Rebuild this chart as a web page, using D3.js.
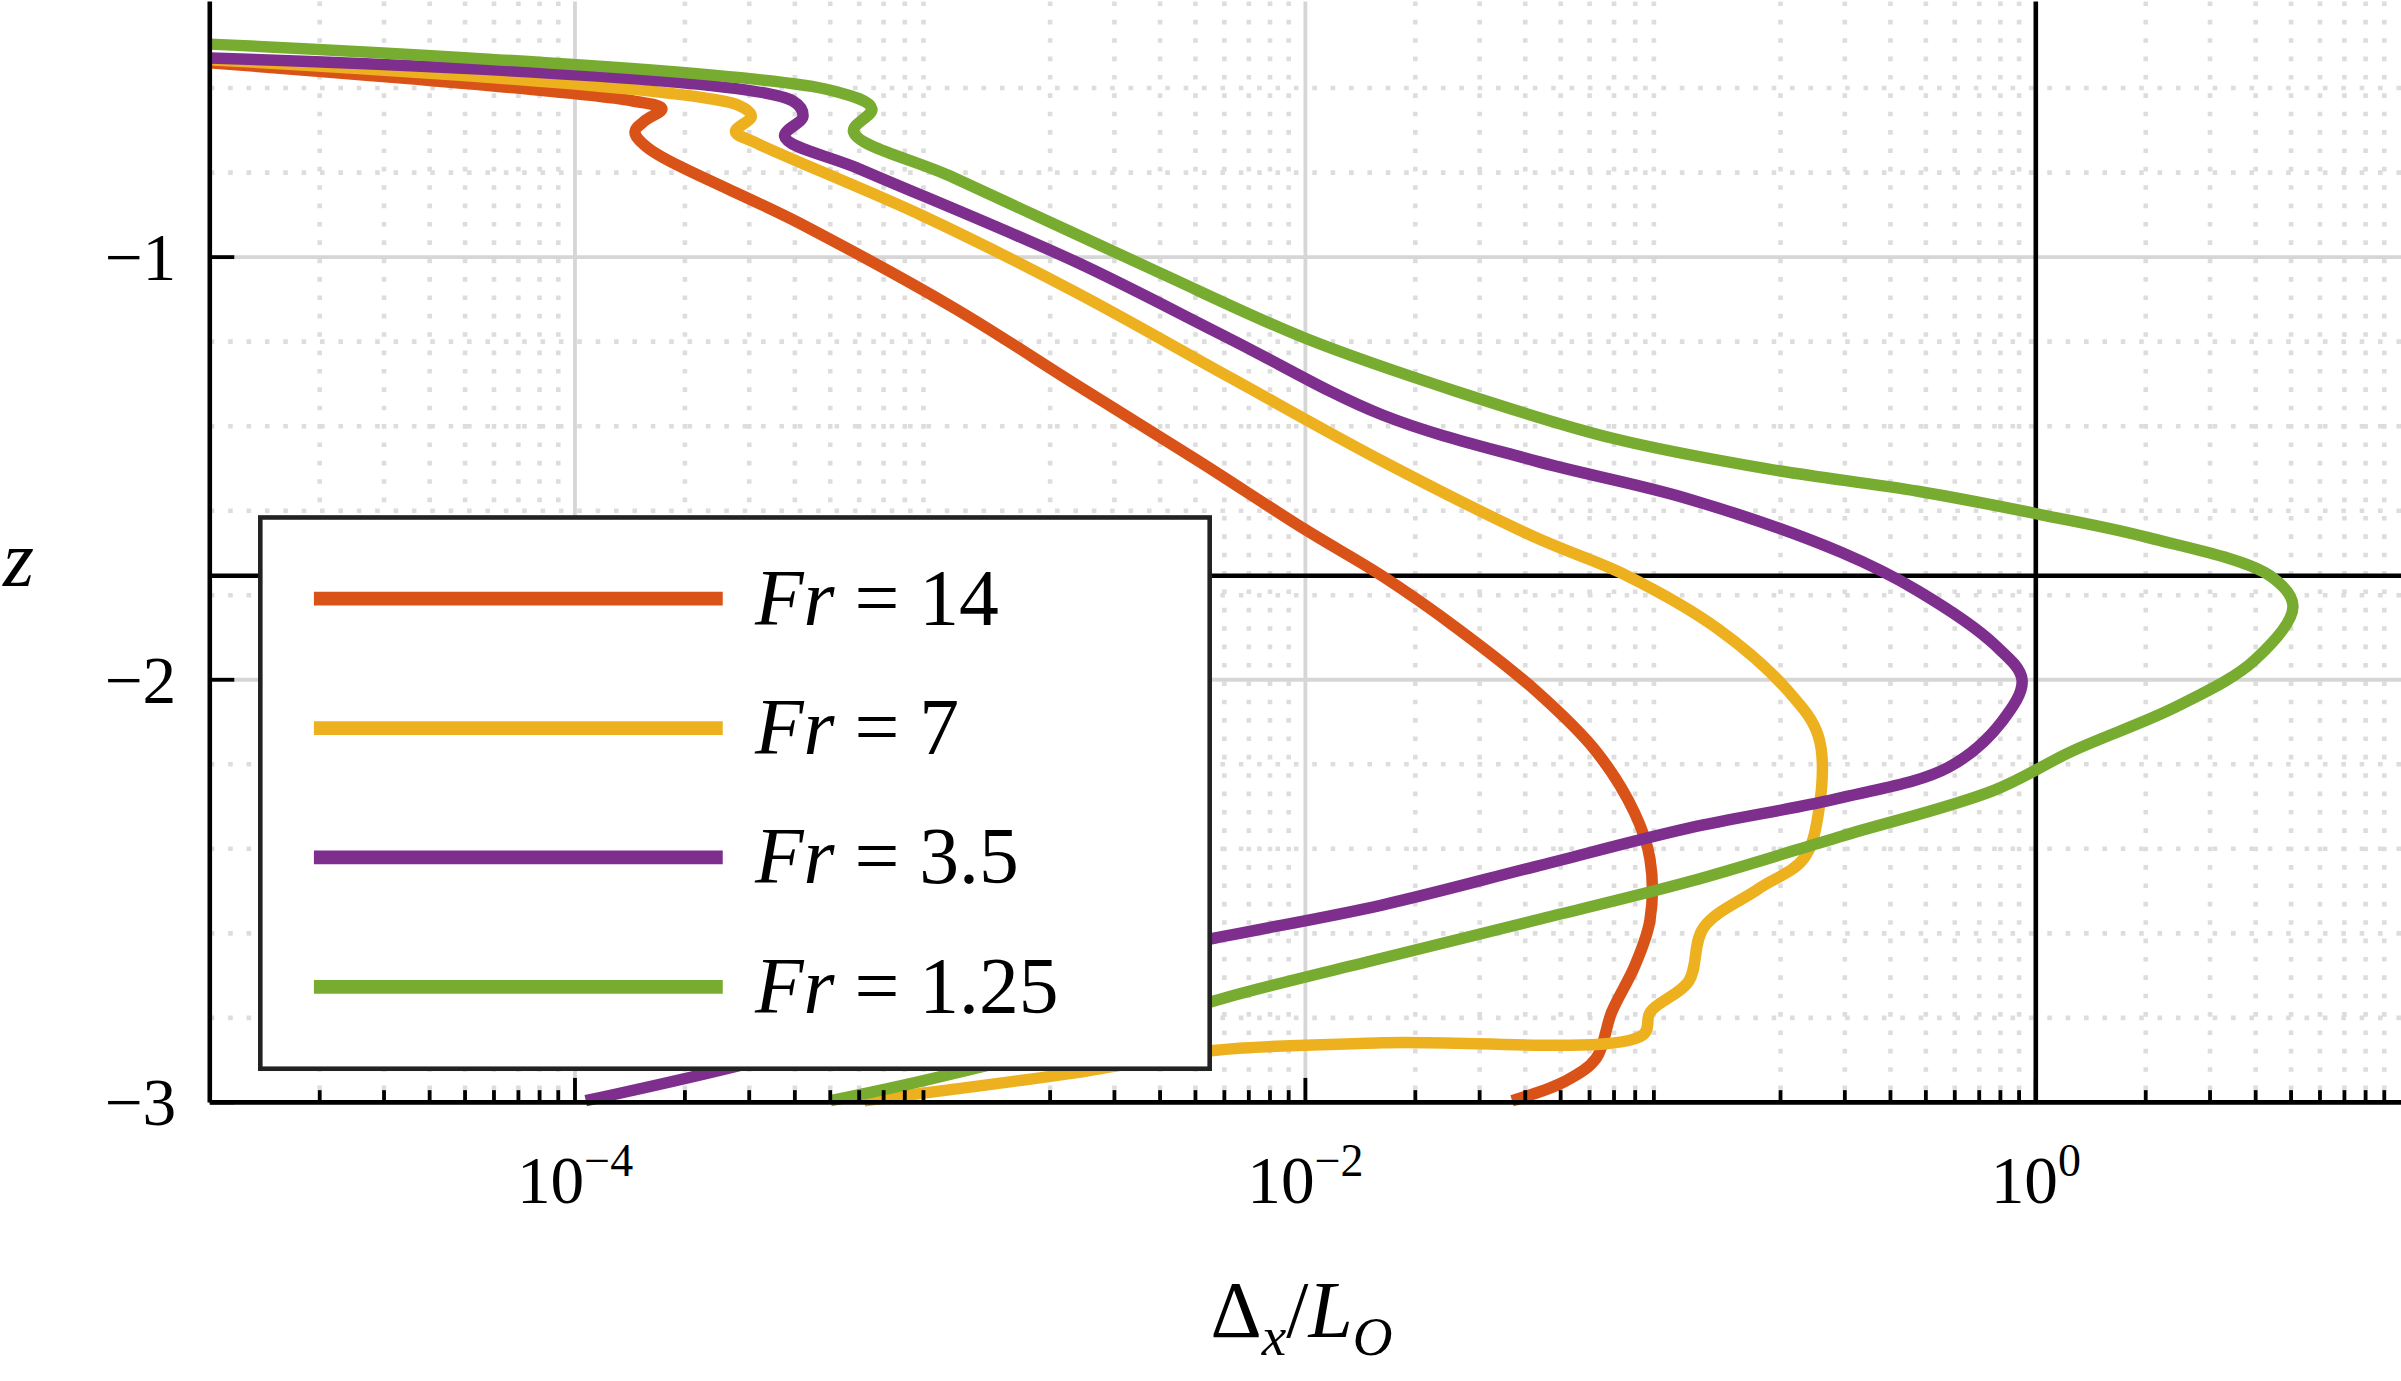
<!DOCTYPE html>
<html><head><meta charset="utf-8">
<script src="https://cdn.jsdelivr.net/npm/d3@7"></script>
<style>body{margin:0;background:#fff}svg{display:block}svg text{font-family:"Liberation Serif","Times New Roman",Times,serif}</style>
</head><body><div id="graph"></div>
<script>
// curves as [Δx/L_O, z]
var fr14 = [[1e-5,-0.54],[1.43e-4,-0.63],[1.73e-4,-0.649],[1.55e-4,-0.678],[1.46e-4,-0.703],[1.57e-4,-0.739],[4.13e-4,-0.92],[1.09e-3,-1.12],[2.35e-3,-1.301],[5.09e-3,-1.482],[0.01,-1.645],[0.0162,-1.754],[0.0262,-1.88],[0.0426,-2.025],[0.0626,-2.17],[0.0797,-2.315],[0.0878,-2.424],[0.0878,-2.569],[0.0797,-2.678],[0.069,-2.786],[0.0626,-2.895],[0.0517,-2.949],[0.0368,-2.996]];
var fr7 = [[1e-5,-0.533],[2.81e-4,-0.641],[3.04e-4,-0.667],[2.75e-4,-0.703],[3.1e-4,-0.728],[8.95e-4,-0.902],[2.35e-3,-1.083],[6.17e-3,-1.283],[0.0162,-1.482],[0.0426,-1.663],[0.076,-1.754],[0.135,-1.88],[0.209,-2.025],[0.254,-2.134],[0.254,-2.315],[0.231,-2.424],[0.173,-2.496],[0.123,-2.587],[0.112,-2.714],[0.088,-2.786],[0.084,-2.84],[0.0162,-2.859],[0.0056,-2.877],[0.00234,-2.93],[6.2e-4,-2.996]];
var fr35 = [[1e-5,-0.529],[3.94e-4,-0.63],[4.21e-4,-0.667],[3.75e-4,-0.714],[6.08e-4,-0.793],[2.35e-3,-1.011],[6.17e-3,-1.192],[0.0162,-1.373],[0.0426,-1.482],[0.112,-1.572],[0.294,-1.699],[0.476,-1.79],[0.771,-1.917],[0.917,-2.0],[0.809,-2.098],[0.577,-2.207],[0.294,-2.279],[0.112,-2.351],[0.0426,-2.442],[0.0162,-2.533],[6.17e-3,-2.605],[2.35e-3,-2.678],[8.95e-4,-2.786],[3.4e-4,-2.895],[1.07e-4,-2.996]];
var fr125 = [[1e-5,-0.496],[5.01e-4,-0.605],[6.5e-4,-0.649],[5.79e-4,-0.703],[1.09e-3,-0.812],[3.81e-3,-1.029],[0.01,-1.192],[0.0262,-1.319],[0.069,-1.428],[0.181,-1.5],[0.476,-1.554],[1.03,-1.609],[2.02,-1.663],[4.38,-1.754],[5.06,-1.826],[3.98,-1.953],[2.45,-2.062],[1.25,-2.17],[0.771,-2.261],[0.294,-2.37],[0.112,-2.478],[0.0426,-2.569],[0.0162,-2.659],[6.17e-3,-2.75],[2.35e-3,-2.859],[8.95e-4,-2.949],[5.01e-4,-2.996]];

var series = [
  { label: "14",   color: "#D95319", data: fr14 },
  { label: "7",    color: "#EDB120", data: fr7 },
  { label: "3.5",  color: "#7E2F8E", data: fr35 },
  { label: "1.25", color: "#77AC30", data: fr125 }
];
var xTicks = [1e-4, 1e-2, 1];
var xTickLabels = ["−4", "−2", "0"];
var yTicks = [-1, -2, -3];

var W = 1568, H = 900;
var svg = d3.select("#graph").append("svg")
  .attr("width", 2401).attr("height", 1381)
  .attr("viewBox", `0 0 ${W} ${H}`);

var x = d3.scaleLog().domain([1e-5, 10]).range([137, 1568]);
var y = d3.scaleLinear().domain([-3, -0.395]).range([719, 0]);

// minor grid
var minorX = [];
for (var e = -5; e < 1; e++) for (var m = 2; m <= 9; m++) minorX.push(m * Math.pow(10, e));
svg.append("g").selectAll("line").data(minorX).enter().append("line")
  .attr("x1", d => x(d)).attr("x2", d => x(d)).attr("y1", 0).attr("y2", 719)
  .attr("stroke", "#ddd").attr("stroke-width", 3).attr("stroke-dasharray", "3,9");
var minorY = d3.range(-2.8, -0.4, 0.2).filter(v => Math.abs(v - Math.round(v)) > 0.01);
svg.append("g").selectAll("line").data(minorY).enter().append("line")
  .attr("x1", 137).attr("x2", W).attr("y1", d => y(d)).attr("y2", d => y(d))
  .attr("stroke", "#ddd").attr("stroke-width", 3).attr("stroke-dasharray", "3,9");
// major grid
svg.append("g").selectAll("line").data([1e-4, 1e-2]).enter().append("line")
  .attr("x1", d => x(d)).attr("x2", d => x(d)).attr("y1", 0).attr("y2", 719)
  .attr("stroke", "#d6d6d6").attr("stroke-width", 2.5);
svg.append("g").selectAll("line").data([-1, -2]).enter().append("line")
  .attr("x1", 137).attr("x2", W).attr("y1", d => y(d)).attr("y2", d => y(d))
  .attr("stroke", "#d6d6d6").attr("stroke-width", 2.5);

// reference lines
svg.append("line").attr("x1", x(1)).attr("x2", x(1)).attr("y1", 0).attr("y2", 719)
  .attr("stroke", "#000").attr("stroke-width", 3);
svg.append("line").attr("x1", 137).attr("x2", W).attr("y1", y(-1.754)).attr("y2", y(-1.754))
  .attr("stroke", "#000").attr("stroke-width", 3);

// curves
var line = d3.line().curve(d3.curveCatmullRom).x(d => x(d[0])).y(d => y(d[1]));
svg.append("g").selectAll("path").data(series).enter().append("path")
  .attr("d", d => line(d.data)).attr("fill", "none")
  .attr("stroke", d => d.color).attr("stroke-width", 7.5).attr("stroke-linejoin", "round");

// axes
svg.append("line").attr("x1", 137).attr("x2", W).attr("y1", 719).attr("y2", 719).attr("stroke", "#000").attr("stroke-width", 3);
svg.append("line").attr("x1", 137).attr("x2", 137).attr("y1", 0).attr("y2", 719).attr("stroke", "#000").attr("stroke-width", 3);
svg.append("g").selectAll("line").data(minorX.concat(xTicks)).enter().append("line")
  .attr("x1", d => x(d)).attr("x2", d => x(d)).attr("y1", 719)
  .attr("y2", d => xTicks.includes(d) ? 703 : 711)
  .attr("stroke", "#000").attr("stroke-width", 2.5);
svg.append("g").selectAll("line").data(yTicks).enter().append("line")
  .attr("x1", 137).attr("x2", 153).attr("y1", d => y(d)).attr("y2", d => y(d))
  .attr("stroke", "#000").attr("stroke-width", 2.5);

var xl = svg.append("g").selectAll("text").data(xTicks).enter().append("text")
  .attr("x", d => x(d)).attr("y", 785).attr("text-anchor", "middle")
  .style("font-size", "44px");
xl.append("tspan").text("10");
xl.append("tspan").attr("dy", -18).style("font-size", "30px").text((d, i) => xTickLabels[i]);
svg.append("g").selectAll("text").data(yTicks).enter().append("text")
  .attr("x", 115).attr("y", d => y(d) + 15).attr("text-anchor", "end")
  .style("font-size", "44px").text(d => "−" + Math.abs(d));

// axis labels
var xlab = svg.append("text").attr("x", 850).attr("y", 872).attr("text-anchor", "middle").style("font-size", "52px");
xlab.append("tspan").text("Δ");
xlab.append("tspan").attr("dy", 12).style("font-size", "36px").style("font-style", "italic").text("x");
xlab.append("tspan").attr("dy", -12).text("/");
xlab.append("tspan").style("font-style", "italic").text("L");
xlab.append("tspan").attr("dy", 12).style("font-size", "36px").style("font-style", "italic").text("O");
svg.append("text").attr("x", 12).attr("y", 382).attr("text-anchor", "middle")
  .style("font-size", "52px").style("font-style", "italic").text("z");

// legend
var lg = svg.append("g");
lg.append("rect").attr("x", 170).attr("y", 337).attr("width", 620).attr("height", 360)
  .attr("fill", "#fff").attr("stroke", "#222").attr("stroke-width", 3);
var items = lg.selectAll("g").data(series).enter().append("g")
  .attr("transform", (d, i) => `translate(0, ${390 + i * 84.5})`);
items.append("line").attr("x1", 205).attr("x2", 472).attr("y1", 0).attr("y2", 0)
  .attr("stroke", d => d.color).attr("stroke-width", 9);
var t = items.append("text").attr("x", 493).attr("y", 17).style("font-size", "52px");
t.append("tspan").style("font-style", "italic").text("Fr");
t.append("tspan").text(d => " = " + d.label);
</script></body></html>
